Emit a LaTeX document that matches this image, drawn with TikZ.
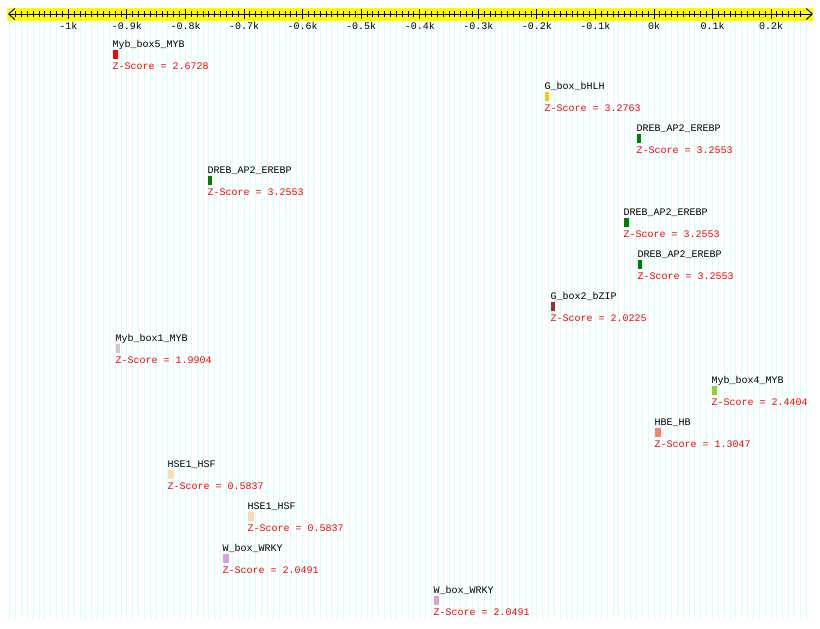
\documentclass[tikz,border=0pt]{standalone}
\usepackage{fontspec}
\setmonofont{Liberation Mono}
\usepackage{tikz}
\usetikzlibrary{positioning, arrows.meta}
\definecolor{gridcyan}{RGB}{210,255,255}
\definecolor{rulerbg}{RGB}{255,255,0}
\definecolor{mybred}{RGB}{255,0,0}
\definecolor{gboxgold}{RGB}{255,200,0}
\definecolor{drebgreen}{RGB}{0,128,0}
\definecolor{bzipbrown}{RGB}{165,42,42}
\definecolor{mybthistle}{RGB}{216,191,216}
\definecolor{mybyellowgreen}{RGB}{154,205,50}
\definecolor{hbesalmon}{RGB}{250,128,114}
\definecolor{hsewheat}{RGB}{245,222,179}
\definecolor{wboxplum}{RGB}{221,160,221}
\tikzset{
  txt/.style={inner sep=0pt, font=\ttfamily\fontsize{10}{12}\selectfont},
  lbl/.style={txt, anchor=base west},
  zsc/.style={lbl, text=red},
  tick/.style={txt, anchor=base},
  gridline/.style={gridcyan, line width=1pt}}

\begin{document}
\begin{tikzpicture}[x=1pt, y=-1pt]
	\useasboundingbox (0,0) rectangle (820,629);
	\fill[white] (0,0) rectangle (820,629);
	% grid, one line every 10 bp
	\foreach \k in {-110,...,26}
		\draw[gridline] ({654+5.856*\k},21) -- ({654+5.856*\k},619);
	% ruler
	\fill[rulerbg] (7,8) rectangle (813,21);
	\coordinate (axl) at (8,14);
	\coordinate (axr) at (813,14);
	\draw[line width=1pt, {Straight Barb[length=6pt,width=11pt]}-{Straight Barb[length=6pt,width=11pt]}] (axl) -- (axr);
	\foreach \k in {-109,...,25}
		\draw[line width=1pt] ({654+5.856*\k},11) -- ({654+5.856*\k},17);
	\foreach \v/\t [count=\j] in {-1000/-1k,-900/-0.9k,-800/-0.8k,-700/-0.7k,-600/-0.6k,-500/-0.5k,-400/-0.4k,-300/-0.3k,-200/-0.2k,-100/-0.1k,0/0k,100/0.1k,200/0.2k}{
		\draw[line width=1pt] ({654+0.5856*\v},9) -- ({654+0.5856*\v},19);
		\node[tick] (tick\j) at ({654+0.5856*\v},29) {\t};
	}
	% motifs: x / y / box width / colour / name / z-score
	\foreach \x/\y/\w/\c/\n/\s [count=\i] in {
		113/44/5/mybred/Myb\_box5\_MYB/2.6728,
		545/86/4/gboxgold/G\_box\_bHLH/3.2763,
		637/128/4/drebgreen/DREB\_AP2\_EREBP/3.2553,
		208/170/4/drebgreen/DREB\_AP2\_EREBP/3.2553,
		624/212/5/drebgreen/DREB\_AP2\_EREBP/3.2553,
		638/254/4/drebgreen/DREB\_AP2\_EREBP/3.2553,
		551/296/4/bzipbrown/G\_box2\_bZIP/2.0225,
		116/338/4/mybthistle/Myb\_box1\_MYB/1.9904,
		712/380/5/mybyellowgreen/Myb\_box4\_MYB/2.4404,
		655/422/6/hbesalmon/HBE\_HB/1.3047,
		168/464/6/hsewheat/HSE1\_HSF/0.5837,
		248/506/6/hsewheat/HSE1\_HSF/0.5837,
		223/548/6/wboxplum/W\_box\_WRKY/2.0491,
		434/590/5/wboxplum/W\_box\_WRKY/2.0491}{
		\node[lbl] (m\i) at (\x-0.5,\y+3) {\n};
		\fill[\c] (\x,\y+6) rectangle (\x+\w,\y+15);
		\node[zsc] (z\i) at (\x-0.5,\y+25) {Z-Score = \s};
	}
\end{tikzpicture}
\end{document}
